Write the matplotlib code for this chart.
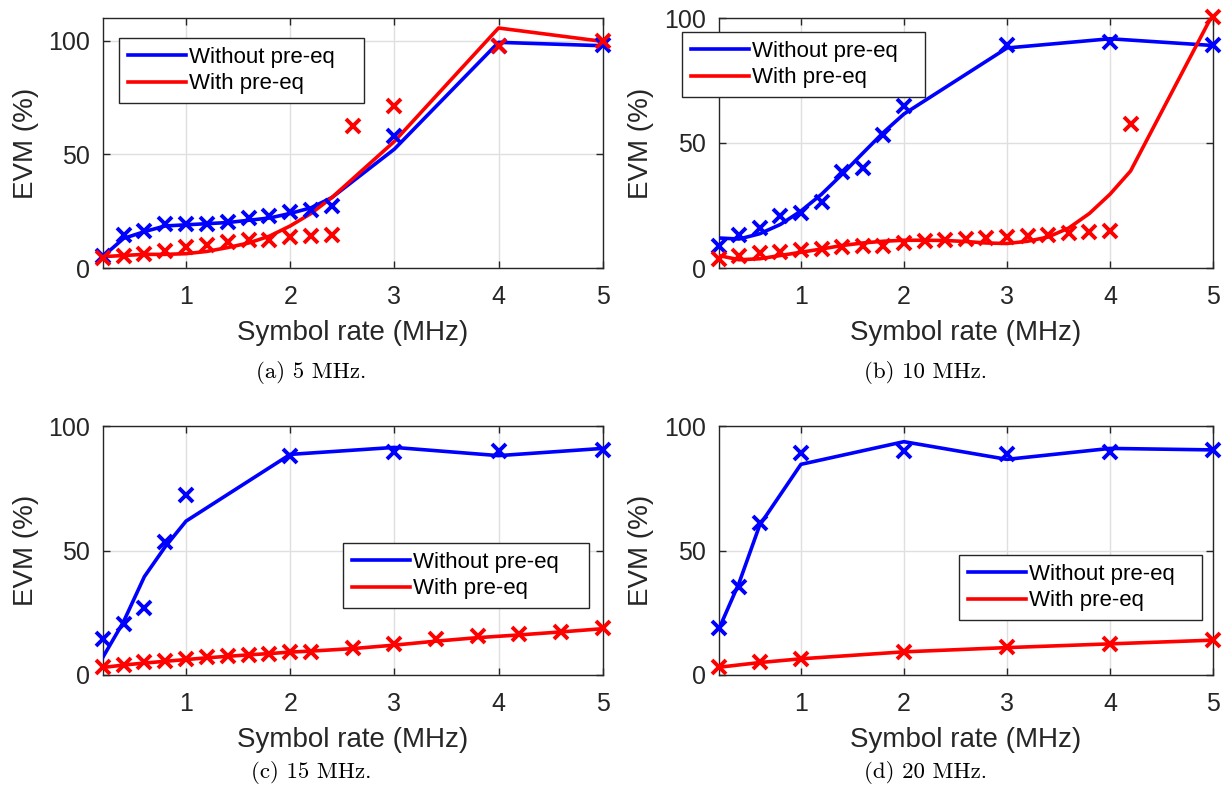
import numpy as np
import matplotlib
matplotlib.use("Agg")
import matplotlib.pyplot as plt

plt.rcParams['font.family'] = ['Liberation Sans', 'DejaVu Sans']

# (a) 5 MHz
a_x_blue = [0.2, 0.4, 0.6, 0.8, 1.0, 1.2, 1.4, 1.6, 1.8, 2.0, 2.2, 2.4, 3, 4, 5]
a_blue_pts = [5.1, 14.7, 16.1, 19.5, 19.5, 19.5, 20.1, 22, 23, 24.5, 25.7, 27.1, 58.2, 97.8, 98.2]
a_blue_line = [5, 13, 16, 18.5, 19, 19.5, 20, 21, 22, 24, 26.5, 31, 52.3, 99.3, 97.8]
a_x_red_pts = [0.2, 0.4, 0.6, 0.8, 1.0, 1.2, 1.4, 1.6, 1.8, 2.0, 2.2, 2.4, 2.6, 3, 4, 5]
a_red_pts = [4.4, 5.4, 6.3, 7.3, 9.1, 10.3, 11.4, 12.5, 12.5, 13.6, 14.2, 14.7, 62.6, 71.1, 97.5, 99.7]
a_x_red_line = [0.2, 0.4, 0.6, 0.8, 1.0, 1.2, 1.4, 1.6, 1.8, 2.0, 2.2, 2.4, 3, 4, 5]
a_red_line = [5, 5.5, 6, 6, 6.3, 7.3, 9, 11, 14, 18.5, 24, 31, 55.7, 105.6, 99.7]

# (b) 10 MHz
b_x_blue = [0.2, 0.4, 0.6, 0.8, 1.0, 1.2, 1.4, 1.6, 1.8, 2.0, 3, 4, 5]
b_blue_pts = [8.7, 13.1, 16.1, 21, 22.1, 26.4, 38.6, 39.9, 53.1, 64.9, 89.3, 90.6, 89.3]
b_blue_line = [12, 11.6, 13.7, 17.4, 22.8, 29.5, 37.5, 45.9, 54.2, 61.6, 88, 91.7, 89]
b_x_red_pts = [0.2, 0.4, 0.6, 0.8, 1.0, 1.2, 1.4, 1.6, 1.8, 2.0, 2.2, 2.4, 2.6, 2.8, 3.0,
               3.2, 3.4, 3.6, 3.8, 4.0, 4.2, 5]
b_red_pts = [3.6, 4.7, 6, 6.3, 7.1, 7.6, 8.3, 8.7, 8.7, 10, 10.7, 11.1, 11.6, 12, 12.4,
             13, 13.4, 14.1, 14.3, 14.7, 57.6, 100.5]
b_x_red_line = [0.2, 0.4, 0.6, 0.8, 1.0, 1.2, 1.4, 1.6, 1.8, 2.0, 2.2, 2.4, 2.6, 2.8, 3.0,
                3.2, 3.4, 3.6, 3.8, 4.0, 4.2, 5]
b_red_line = [5, 3.3, 3.7, 5, 6.3, 7.6, 9, 10, 10.7, 11.1, 11.1, 11, 10.6, 10, 9.8,
              10.7, 12.4, 16, 21.8, 29.5, 38.8, 101.7]

# (c) 15 MHz
c_x_blue = [0.2, 0.4, 0.6, 0.8, 1.0, 2, 3, 4, 5]
c_blue_pts = [14.5, 20.5, 26.8, 53.3, 72.3, 88.1, 89.4, 90, 90.4]
c_blue_line = [7, 21.4, 39.5, 51.5, 61.8, 88.6, 91.4, 88.1, 91]
c_x_red = [0.2, 0.4, 0.6, 0.8, 1.0, 1.2, 1.4, 1.6, 1.8, 2.0, 2.2, 2.6, 3.0, 3.4, 3.8, 4.2, 4.6, 5.0]
c_red_pts = [3.1, 4, 5.1, 5.6, 6.3, 7.1, 7.6, 8, 8.6, 9.4, 9.4, 10.7, 12.3, 14.3, 15.7, 16.5, 17.4, 18.7]
c_red_line = [3, 4, 4.8, 5.5, 6.2, 6.9, 7.5, 8.1, 8.6, 9.2, 9.6, 10.6, 12, 13.6, 15, 16.1, 17.3, 18.6]

# (d) 20 MHz
d_x_blue = [0.2, 0.4, 0.6, 1, 2, 3, 4, 5]
d_blue_pts = [18.7, 35.5, 60.9, 89.3, 90, 88.8, 89.7, 90.4]
d_blue_line = [18.1, 37, 60.2, 84.6, 93.7, 86.6, 91, 90.4]
d_x_red = [0.2, 0.6, 1, 2, 3, 4, 5]
d_red_pts = [3.1, 5.1, 6.4, 9.4, 11.1, 12.4, 14.1]
d_red_line = [3.1, 5.0, 6.5, 9.3, 11.0, 12.5, 14.0]

captions = ["(a) 5 MHz.", "(b) 10 MHz.", "(c) 15 MHz.", "(d) 20 MHz."]

W, H = 1228, 791
fig = plt.figure(figsize=(W / 100, H / 100), dpi=100)

def px_box(left, top, right, bottom):
    return [left / W, 1 - bottom / H, (right - left) / W, (bottom - top) / H]

def panel(box, xb, yb_pts, yb_line, xr_pts, yr_pts, xr_line, yr_line, ymax, leg_box):
    ax = fig.add_axes(px_box(*box))
    ax.plot(xb, yb_line, color=(0, 0, 1), lw=2.6, label="Without pre-eq", zorder=3)
    ax.plot(xr_line, yr_line, color=(1, 0, 0), lw=2.6, label="With pre-eq", zorder=3)
    ax.plot(xb, yb_pts, ls="none", marker="x", ms=10, mew=2.8, color=(0, 0, 1),
            zorder=4, clip_on=False)
    ax.plot(xr_pts, yr_pts, ls="none", marker="x", ms=10, mew=2.8, color=(1, 0, 0),
            zorder=4, clip_on=False)
    ax.set_xlim(0.2, 5)
    ax.set_ylim(0, ymax)
    ax.set_xticks([1, 2, 3, 4, 5])
    ax.set_yticks([0, 50, 100])
    ax.grid(True, color="#dfdfdf", lw=1.0)
    ax.set_axisbelow(True)
    for s in ax.spines.values():
        s.set_color("#262626")
        s.set_linewidth(1.0)
    ax.tick_params(direction="in", length=5, width=1.0, top=True, right=True,
                   labelsize=18, colors="#262626")
    ax.tick_params(axis="x", pad=12)
    ax.tick_params(axis="y", pad=9)
    ax.set_xlabel("Symbol rate (MHz)", fontsize=20, color="#262626", labelpad=8)
    ax.set_ylabel("EVM (%)", fontsize=20, color="#262626", labelpad=7)
    lx, ly, lw = leg_box
    leg = ax.legend(loc="upper left", bbox_to_anchor=(lx / W, 1 - ly / H, lw / W, 0.0001),
                    bbox_transform=fig.transFigure, mode="expand", fontsize=16,
                    frameon=True, fancybox=False, framealpha=1, edgecolor="#262626",
                    handlelength=2.6, handletextpad=0.15, borderpad=0.4,
                    labelspacing=0.25, borderaxespad=0)
    leg.get_frame().set_linewidth(1.0)
    return ax

panel((102.7, 18, 602.7, 268), a_x_blue, a_blue_pts, a_blue_line,
      a_x_red_pts, a_red_pts, a_x_red_line, a_red_line, 110, (119, 38, 245))
panel((718.5, 18, 1213, 268), b_x_blue, b_blue_pts, b_blue_line,
      b_x_red_pts, b_red_pts, b_x_red_line, b_red_line, 100, (682, 32, 243))
panel((102.7, 426, 602.7, 675), c_x_blue, c_blue_pts, c_blue_line,
      c_x_red, c_red_pts, c_x_red, c_red_line, 100, (343, 543, 246))
panel((718.5, 426, 1213, 675), d_x_blue, d_blue_pts, d_blue_line,
      d_x_red, d_red_pts, d_x_red, d_red_line, 100, (959, 555, 243))

cap_pos = [(311, 373), (926, 373), (311, 773), (926, 773)]
for txt, (cx, cy) in zip(captions, cap_pos):
    fig.text(cx / W, 1 - cy / H, txt, ha="center", va="center", fontsize=16.5,
             family=["cmr10", "DejaVu Serif"])

fig.savefig("out.png", dpi=100)
